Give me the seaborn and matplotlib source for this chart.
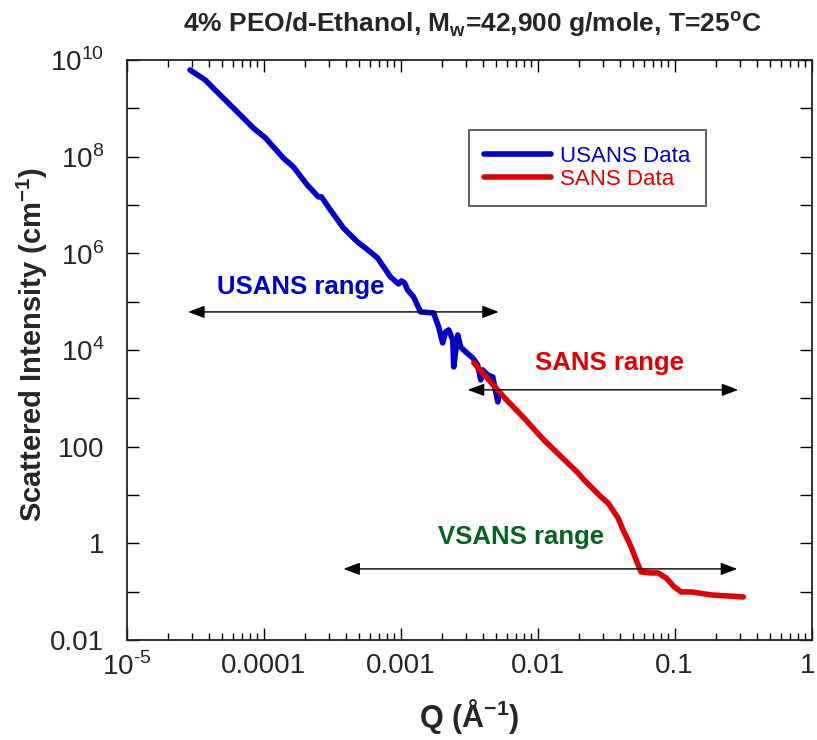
import numpy as np
import pandas as pd
import seaborn as sns
import matplotlib
matplotlib.use("Agg")
from matplotlib import pyplot as plt
from matplotlib import ticker
from matplotlib.transforms import ScaledTranslation

# USANS data (Q in 1/A, I in 1/cm)
usans_q = [2.90e-5, 3.74e-5, 4.81e-5, 6.75e-5, 8.39e-5, 1.03e-4, 1.39e-4, 1.65e-4,
           2.08e-4, 2.51e-4, 2.64e-4, 3.07e-4, 3.82e-4, 4.84e-4, 5.53e-4, 6.78e-4,
           8.43e-4, 9.65e-4, 1.015e-3, 1.068e-3, 1.123e-3, 1.243e-3, 1.398e-3, 1.740e-3,
           1.893e-3, 2.025e-3, 2.13e-3, 2.24e-3, 2.40e-3, 2.44e-3, 2.61e-3, 2.74e-3,
           2.98e-3, 3.36e-3, 3.65e-3, 3.84e-3, 3.97e-3, 4.32e-3, 4.70e-3, 5.12e-3, 5.20e-3]
usans_i = [6.21e9, 3.86e9, 1.89e9, 7.29e8, 3.93e8, 2.44e8, 9.40e7, 6.12e7,
           2.60e7, 1.47e7, 1.47e7, 7.90e6, 3.35e6, 1.72e6, 1.29e6, 8.03e5,
           3.25e5, 2.33e5, 2.69e5, 2.44e5, 1.75e5, 1.25e5, 6.14e4, 5.85e4,
           3.01e4, 1.40e4, 2.37e4, 2.61e4, 1.62e4, 4.47e3, 2.05e4, 1.16e4,
           9.14e3, 6.87e3, 4.92e3, 2.41e3, 3.88e3, 3.05e3, 2.78e3, 845, 1.30e3]

# SANS data
sans_q = [3.42e-3, 5.66e-3, 7.93e-3, 1.11e-2, 1.97e-2, 2.18e-2, 2.90e-2, 3.26e-2,
          3.86e-2, 4.20e-2, 4.81e-2, 5.23e-2, 5.69e-2, 6.73e-2, 7.57e-2, 8.66e-2,
          9.92e-2, 0.1116, 0.132, 0.185, 0.317]
sans_i = [5.41e3, 1.07e3, 394, 138, 28.7, 20.6, 9.16, 6.88,
          3.37, 1.90, 0.847, 0.456, 0.257, 0.245, 0.245, 0.193,
          0.126, 0.0993, 0.0993, 0.0861, 0.0782]

# instrument ranges: label, q span, arrow height, text position, colour
range_names = ["USANS range", "SANS range", "VSANS range"]
range_qmin = [2.81e-5, 3.09e-3, 3.82e-4]
range_qmax = [5.20e-3, 0.291, 0.286]
range_level = [6.14e4, 1.50e3, 0.297]
range_text_q = [1.88e-4, 3.32e-2, 7.53e-3]
range_text_i = [2.02e5, 5.41e3, 1.36]
range_colors = ["#0000cc", "#e00000", "#00661f"]

x_ticks = [1e-5, 1e-4, 1e-3, 1e-2, 1e-1, 1]
x_labels = ["10$^{\\text{-5}}$", "0.0001", "0.001", "0.01", "0.1", "1"]
y_ticks = [10.0 ** k for k in range(-2, 11)]
y_labels = ["0.01", "", "1", "", "100", "", "10$^{4}$", "", "10$^{6}$", "",
            "10$^{8}$", "", "10$^{10}$"]

sns.set_style("ticks")
plt.rcParams["font.family"] = ["Liberation Sans", "DejaVu Sans"]
plt.rcParams["mathtext.fontset"] = "custom"
plt.rcParams["mathtext.rm"] = "Liberation Sans"
plt.rcParams["mathtext.bf"] = "Liberation Sans:bold"

df = pd.concat([
    pd.DataFrame({"Q": usans_q, "I": usans_i, "series": "USANS Data"}),
    pd.DataFrame({"Q": sans_q, "I": sans_i, "series": "SANS Data"}),
])

fig = plt.figure(figsize=(8.17, 7.4), dpi=100)
ax = fig.add_axes([0.155, 0.135, 0.8385, 0.784])

sns.lineplot(data=df, x="Q", y="I", hue="series",
             palette={"USANS Data": "#0000cc", "SANS Data": "#e00000"},
             sort=False, estimator=None, lw=4, ax=ax)

ax.set_xscale("log")
ax.set_yscale("log")
ax.set_xlim(1e-5, 1)
ax.set_ylim(1e-2, 1e10)

ax.xaxis.set_major_locator(ticker.FixedLocator(x_ticks))
ax.xaxis.set_major_formatter(ticker.FixedFormatter(x_labels))
ax.xaxis.set_minor_locator(ticker.LogLocator(base=10, subs=np.arange(2, 10), numticks=20))
ax.xaxis.set_minor_formatter(ticker.NullFormatter())
ax.yaxis.set_major_locator(ticker.FixedLocator(y_ticks))
ax.yaxis.set_major_formatter(ticker.FixedFormatter(y_labels))
ax.yaxis.set_minor_locator(ticker.NullLocator())

ax.tick_params(which="both", direction="in", top=True, right=True, width=1, color="black")
ax.tick_params(which="major", length=8.5)
ax.tick_params(which="minor", length=5)
ax.tick_params(axis="x", pad=9)
ax.tick_params(axis="y", pad=16)
for lab in ax.get_xticklabels() + ax.get_yticklabels():
    lab.set_fontsize(20)
# keep the last x label ("1") inside the figure edge
last = ax.get_xticklabels()[-1]
last.set_transform(last.get_transform() + ScaledTranslation(-4 / 100, 0, fig.dpi_scale_trans))
for sp in ax.spines.values():
    sp.set_linewidth(1.3)
    sp.set_color("#222222")

# range arrows and labels
for name, q0, q1, lev, tq, ti, col in zip(range_names, range_qmin, range_qmax, range_level,
                                          range_text_q, range_text_i, range_colors):
    ax.annotate("", xy=(q1, lev), xytext=(q0, lev),
                arrowprops=dict(arrowstyle="<|-|>,head_length=1.0,head_width=0.38",
                                color="black", lw=1, shrinkA=0, shrinkB=0))
    ax.text(tq, ti, name, color=col, fontsize=18.5, fontweight="bold",
            ha="center", va="center")

ax.legend(loc="upper left", bbox_to_anchor=(0.483, 0.898), frameon=True, fancybox=False,
          edgecolor="#555555", framealpha=1, fontsize=16, labelcolor="linecolor",
          handlelength=3.0, borderpad=0.7, labelspacing=0.1, handletextpad=0.4)
ax.get_legend().get_frame().set_linewidth(1.3)

ax.set_xlabel("Q (Å$^{\\mathbf{-1}}$)", fontsize=22, fontweight="bold")
ax.set_ylabel("Scattered Intensity (cm$^{\\mathbf{-1}}$)", fontsize=21, fontweight="bold")
ax.xaxis.set_label_coords(0.5, -0.098)
ax.yaxis.set_label_coords(-0.112, 0.51)

fig.text(0.578, 0.968, "4% PEO/d-Ethanol, M$_{\\mathbf{w}}$=42,900 g/mole, T=25$^{\\mathbf{o}}$C",
         fontsize=19, fontweight="bold", ha="center", va="center")

fig.savefig("out.png", dpi=100, facecolor="white")
